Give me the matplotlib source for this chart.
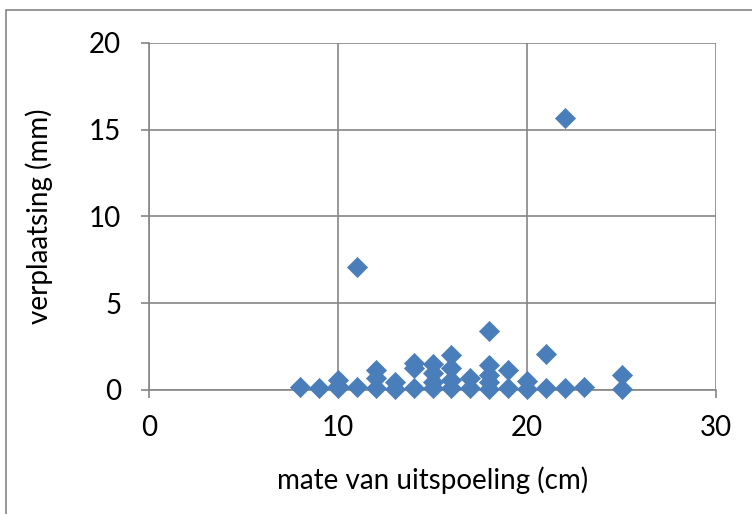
import matplotlib
matplotlib.use('Agg')
import matplotlib.pyplot as plt
from matplotlib.patches import Rectangle

# mate van uitspoeling (cm) en verplaatsing (mm)
uitspoeling = [8, 9,
               10, 10, 10,
               11, 11,
               12, 12, 12,
               13, 13,
               14, 14, 14,
               15, 15, 15, 15,
               16, 16, 16, 16,
               17, 17,
               18, 18, 18, 18, 18,
               19, 19,
               20, 20,
               21, 21,
               22, 22,
               23,
               25, 25]
verplaatsing = [0.2, 0.1,
                0.58, 0.1, 0.25,
                7.1, 0.2,
                1.15, 0.67, 0.1,
                0.48, 0.05,
                1.54, 1.25, 0.1,
                1.5, 0.96, 0.48, 0.1,
                2.0, 1.25, 0.58, 0.1,
                0.7, 0.1,
                3.42, 1.44, 0.86, 0.48, 0.05,
                1.15, 0.1,
                0.5, 0.05,
                2.1, 0.1,
                15.7, 0.1,
                0.2,
                0.86, 0.05]

x_ticks = [0, 10, 20, 30]
y_ticks = [0, 5, 10, 15, 20]

plt.rcParams['font.family'] = ['Lato', 'DejaVu Sans']

fig = plt.figure(figsize=(7.52, 5.14), dpi=100)
ax = fig.add_axes([149 / 752, 1 - 390 / 514, (716 - 149) / 752, (390 - 43) / 514])

grijs = '#868686'

# kader rond de grafiek (loopt rechts en onder door buiten het beeld)
fig.patches.append(Rectangle((6 / 752, -0.1), 1.2, 1 - 10 / 514 + 0.1,
                             transform=fig.transFigure, fill=False,
                             edgecolor=grijs, linewidth=1.2))

ax.scatter(uitspoeling, verplaatsing, marker='D', s=105, color='#4a7ebb',
           edgecolors='#4a7ebb', linewidths=0.5, zorder=3, clip_on=False)

ax.set_xlim(0, 30)
ax.set_ylim(0, 20)
ax.set_xticks(x_ticks)
ax.set_yticks(y_ticks)
ax.grid(True, color=grijs, linewidth=1.2)
ax.set_axisbelow(True)
for s in ['top', 'right', 'left', 'bottom']:
    ax.spines[s].set_color(grijs)
    ax.spines[s].set_linewidth(1.2)
ax.spines['top'].set_visible(False)
ax.spines['right'].set_visible(False)
ax.tick_params(axis='both', colors=grijs, labelcolor='black', labelsize=20,
               length=6, width=1.2)
ax.tick_params(axis='y', pad=14)
ax.tick_params(axis='x', pad=12)

ax.set_xlabel('mate van uitspoeling (cm)', fontsize=20, labelpad=18)
ax.set_ylabel('verplaatsing (mm)', fontsize=20, labelpad=26)

fig.savefig('out.png', dpi=100)
